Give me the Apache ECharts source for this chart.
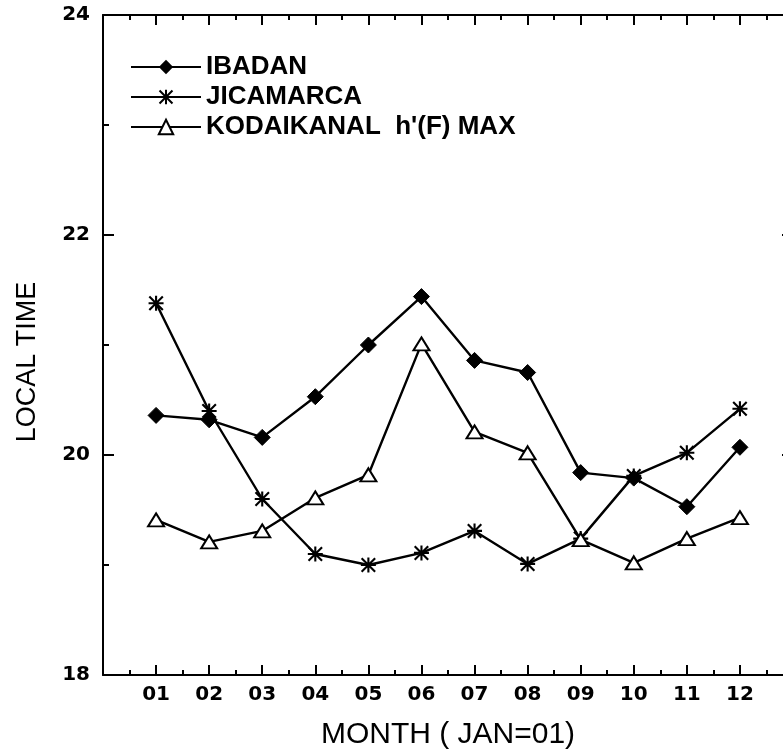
<!DOCTYPE html>
<html>
<head>
<meta charset="utf-8">
<script src="https://cdn.jsdelivr.net/npm/echarts@6/dist/echarts.min.js"></script>
<style>
html,body{margin:0;padding:0;background:#fff;}
#chart{width:783px;height:751px;}
</style>
</head>
<body>
<div id="chart"></div>
<script>
const months = ['01','02','03','04','05','06','07','08','09','10','11','12'];
const monthNums = [1,2,3,4,5,6,7,8,9,10,11,12];
const ibadan = [20.36,20.32,20.16,20.53,21.00,21.44,20.86,20.75,19.84,19.79,19.53,20.07];
const jicamarca = [21.38,20.40,19.60,19.10,19.00,19.11,19.31,19.01,19.24,19.81,20.02,20.42];
const kodaikanal = [19.41,19.21,19.31,19.61,19.82,21.01,20.21,20.02,19.23,19.02,19.24,19.43];
const yTicks = ['18','20','22','24'];
const seriesNames = ['IBADAN','JICAMARCA','KODAIKANAL  h\'(F) MAX'];

const pair = arr => monthNums.map((m,i)=>[m,arr[i]]);
const FONT = '"Liberation Sans", Arial, Helvetica, sans-serif';
const TICKFONT = '"DejaVu Sans", "Liberation Sans", sans-serif';
const asterisk = 'path://M0 43 L100 43 L100 57 L0 57 Z M43 0 L57 0 L57 100 L43 100 Z M0 10 L10 0 L100 90 L90 100 Z M90 0 L100 10 L10 100 L0 90 Z';

const GRID_W = 690;
const lineSt = {color:'#000', width:2};
function xAx(pos, showLabels){
  return {
    type:'value', position:pos, min:0, max:13, interval:1,
    axisLine:{show:true, onZero:false, lineStyle:lineSt},
    axisTick:{show:true, inside:true, length:10, lineStyle:lineSt},
    minorTick:{show:true, splitNumber:2, length:5, lineStyle:lineSt},
    splitLine:{show:false}, minorSplitLine:{show:false},
    axisLabel:{show:showLabels, margin:10, color:'#000', fontFamily:TICKFONT, fontWeight:'bold', fontSize:20,
      formatter: v => (v>=1 && v<=12) ? months[v-1] : ''},
  };
}
function yAx(pos, showLabels){
  return {
    type:'value', position:pos, min:18, max:24, interval:2,
    axisLine:{show:true, onZero:false, lineStyle:lineSt},
    axisTick:{show:true, inside:true, length:11, lineStyle:lineSt},
    minorTick:{show:true, splitNumber:2, length:6, lineStyle:lineSt},
    splitLine:{show:false}, minorSplitLine:{show:false},
    axisLabel:{show:showLabels, margin:13, color:'#000', fontFamily:TICKFONT, fontWeight:'bold', fontSize:20,
      formatter: v => yTicks[yTicks.indexOf(String(v))] || ''},
  };
}

const x0 = xAx('bottom', true);
x0.name = 'MONTH ( JAN=01)';
x0.nameLocation = 'middle';
x0.nameGap = 45;
x0.nameTextStyle = {color:'#000', fontFamily:FONT, fontSize:30};
const x1 = xAx('top', false);

const y0 = yAx('left', true);
y0.name = 'LOCAL TIME';
y0.nameLocation = 'middle';
y0.nameGap = 62;
y0.nameTextStyle = {color:'#000', fontFamily:FONT, fontSize:27, padding:[0,34,0,0]};
const y1 = yAx('right', false);

const lineBase = {type:'line', xAxisIndex:0, yAxisIndex:0, lineStyle:{color:'#000', width:2.4}, animation:false, z:3};

const option = {
  backgroundColor:'#fff',
  animation:false,
  grid:{left:103, top:15, width:GRID_W, height:660, containLabel:false, outerBoundsMode:'none'},
  xAxis:[x0, x1],
  yAxis:[y0, y1],
  legend:{
    orient:'vertical', left:125, top:47, itemWidth:70, itemHeight:18, itemGap:0,
    textStyle:{color:'#000', fontFamily:FONT, fontWeight:'bold', fontSize:26, lineHeight:30},
    data: seriesNames
  },
  series:[
    Object.assign({}, lineBase, {name:seriesNames[0], data:pair(ibadan), symbol:'diamond', symbolSize:[16,16],
      itemStyle:{color:'#000', borderColor:'#000'}}),
    Object.assign({}, lineBase, {name:seriesNames[1], data:pair(jicamarca), symbol:asterisk, symbolSize:[15,15],
      itemStyle:{color:'#000', borderColor:'#000', borderWidth:0}}),
    Object.assign({}, lineBase, {name:seriesNames[2], data:pair(kodaikanal), symbol:'triangle', symbolSize:[16,13],
      itemStyle:{color:'#fff', borderColor:'#000', borderWidth:2}}),
  ]
};
const chart = echarts.init(document.getElementById('chart'), null, {renderer:'canvas'});
chart.setOption(option);
</script>
</body>
</html>
